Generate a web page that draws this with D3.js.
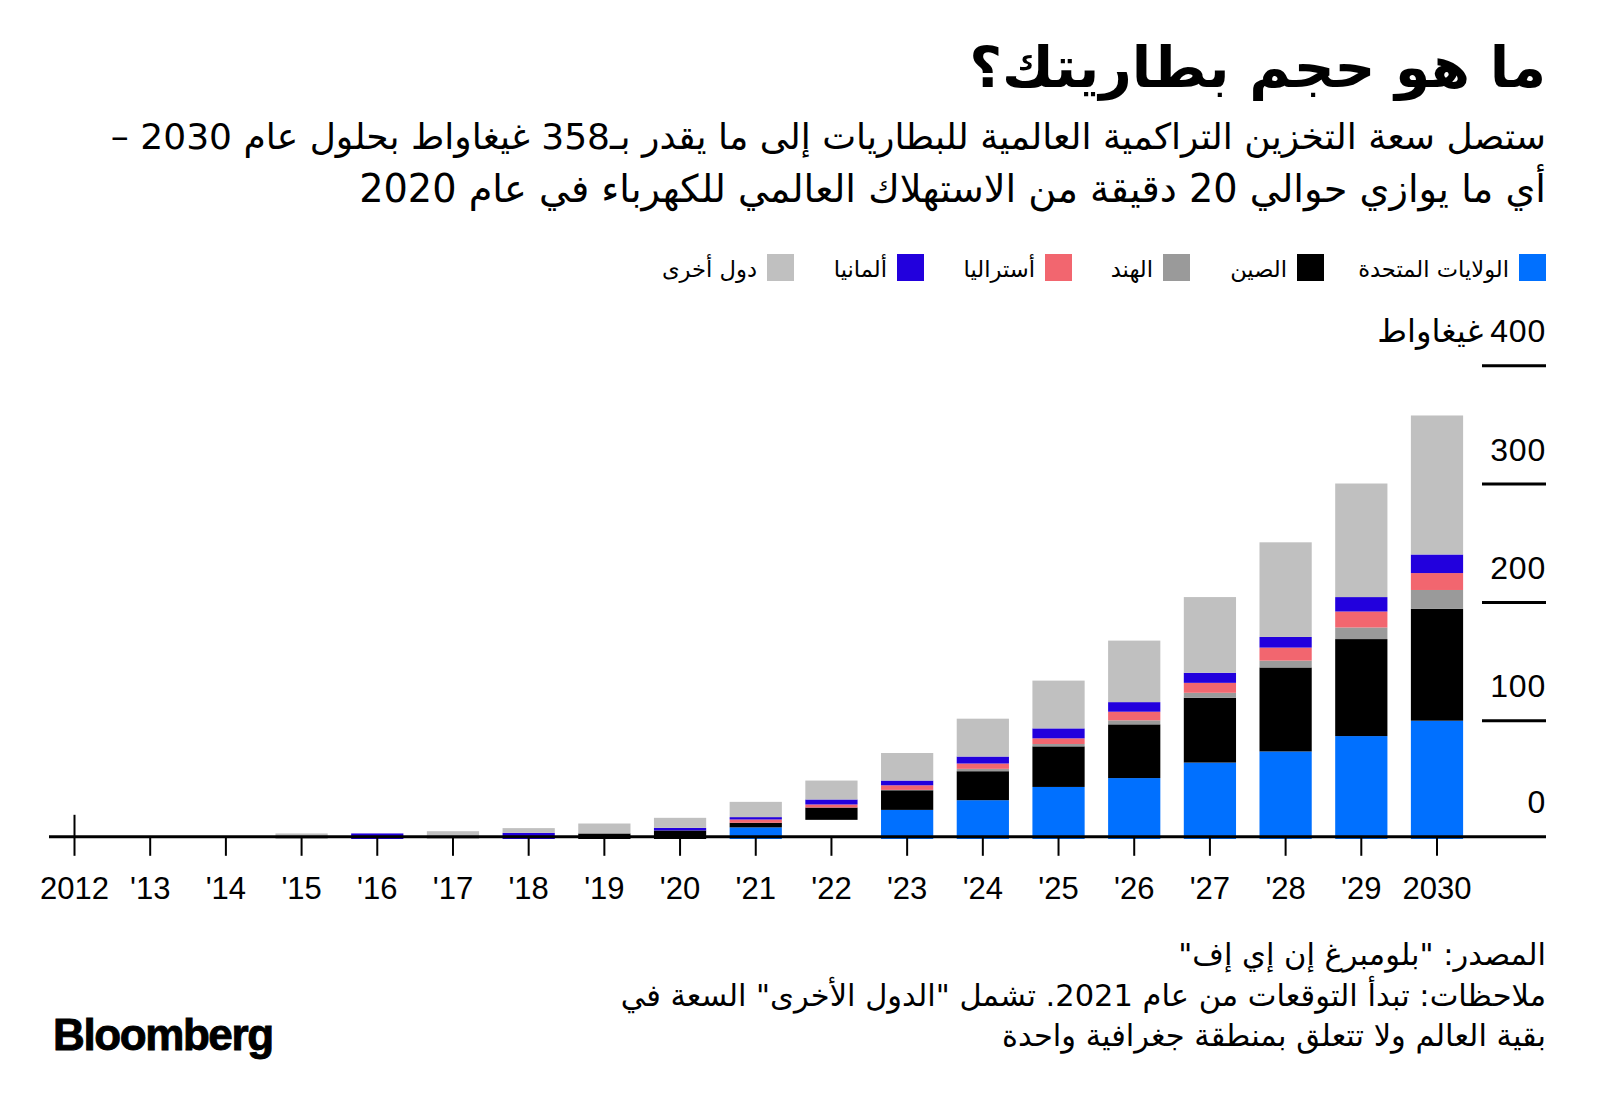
<!DOCTYPE html>
<html><head><meta charset="utf-8">
<script src="https://cdn.jsdelivr.net/npm/d3@7/dist/d3.min.js"></script>
<style>
html,body{margin:0;padding:0;background:#fff;}
svg{display:block;}
.ar{font-family:"DejaVu Sans",sans-serif;}
.lat{font-family:"Liberation Sans",Arial,sans-serif;}
</style></head>
<body>
<script>
// ---------- data ----------
const years = [2012,2013,2014,2015,2016,2017,2018,2019,2020,2021,2022,2023,2024,2025,2026,2027,2028,2029,2030];
const xTickLabels = ["2012","'13","'14","'15","'16","'17","'18","'19","'20","'21","'22","'23","'24","'25","'26","'27","'28","'29","2030"];
const usValues        = [0,0,0,0,0,0,0,0,0,9.8,16.2,24.6,32.8,44,51.5,64.6,74,87,100];
const chinaValues     = [0,0,0,0,0,0,0,4.7,7.2,3.9,10.4,16.6,24.5,34.3,45.4,54.8,71,82,94.5];
const indiaValues     = [0,0,0,0,0,0,0,0,0,0,0,0.3,2,2,3.4,4.2,5.8,9.8,16];
const australiaValues = [0,0,0,0,0,0,0,0,0,2.8,2.6,3.9,4.5,4.8,7.3,8.4,11,13.5,14.3];
const germanyValues   = [0,0,0,0,4.7,0,5.2,0,2.2,2,4.2,4,5.9,8.4,8.1,8.5,9,12.2,15.7];
const otherValues     = [0,0,0,4.7,0,6.6,4,8.4,8.5,12.9,16,23.3,32,40.4,52,64,80,96,117.5];
const seriesKeys   = ["us","china","india","australia","germany","other"];
const seriesNames  = ["الولايات المتحدة","الصين","الهند","أستراليا","ألمانيا","دول أخرى"];
const seriesColors = ["#0070ff","#000000","#9a9a9a","#f2666f","#2200dd","#c0c0c0"];
// segment not drawn in the source graphic
const undrawnSegments = [{key:"us", year:2022}];
const yTickValues = [0,100,200,300,400];
const yUnit = "غيغاواط";

const titleText = "ما هو حجم بطاريتك؟";
const subtitleLines = [
  "ستصل سعة التخزين التراكمية العالمية للبطاريات إلى ما يقدر بـ358 غيغاواط بحلول عام 2030 –",
  "أي ما يوازي حوالي 20 دقيقة من الاستهلاك العالمي للكهرباء في عام 2020"
];
const footerLines = [
  "المصدر: \"بلومبرغ إن إي إف\"",
  "ملاحظات: تبدأ التوقعات من عام 2021. تشمل \"الدول الأخرى\" السعة في",
  "بقية العالم ولا تتعلق بمنطقة جغرافية واحدة"
];

// ---------- layout ----------
const W = 1600, H = 1116;
const right = 1546;
const legendSwatchRight = [1546, 1324, 1190, 1072, 924, 794];

const svg = d3.select("body").append("svg").attr("width", W).attr("height", H);

// size a text so that its rendered width matches a target width
function fitWidth(sel, target) {
  const w = sel.node().getComputedTextLength();
  const fs = +sel.attr("font-size");
  sel.attr("font-size", fs * target / w);
  return fs * target / w;
}
function rtlText(parent, xPos, yPos, size, str) {
  return parent.append("text").attr("class","ar")
    .attr("x", xPos).attr("y", yPos)
    .attr("direction","rtl").style("direction","rtl").attr("text-anchor","start")
    .attr("font-size", size).attr("fill","#000").text(str);
}

const table = years.map((yr,i) => ({
  year: yr, us: usValues[i], china: chinaValues[i], india: indiaValues[i],
  australia: australiaValues[i], germany: germanyValues[i], other: otherValues[i]
}));
const stacked = d3.stack().keys(seriesKeys)(table);

const x = d3.scalePoint().domain(years).range([74.5, 1437]);
const barW = x.step() * 0.69;
const y = d3.scaleLinear().domain([0, 400]).range([839, 365.8]);
const baseY = y(0) - 2.2;
const color = d3.scaleOrdinal().domain(seriesKeys).range(seriesColors);

// title
const title = rtlText(svg, right, 87, 50, titleText).attr("font-weight", 700);
fitWidth(title, 577);

// subtitle
const subTargets = [1436, 1187];
subtitleLines.forEach((s, i) => fitWidth(rtlText(svg, right, 149 + i*53, 30, s), subTargets[i]));

// legend
{
  const sw = 27, gap = 10;
  const texts = [];
  seriesKeys.forEach((k, i) => {
    const xr = legendSwatchRight[i];
    svg.append("rect").attr("x", xr - sw).attr("y", 254).attr("width", sw).attr("height", sw)
      .attr("fill", color(k));
    texts.push(rtlText(svg, xr - sw - gap, 277, 21, seriesNames[i]));
  });
  const fs = fitWidth(texts[0], 151);
  texts.forEach(t => t.attr("font-size", fs));
}

// y-axis ticks and labels
const yAxisG = svg.append("g");
yTickValues.forEach(v => {
  const ly = v === 0 ? baseY : y(v);
  if (v !== 0) {
    yAxisG.append("line").attr("x1", 1482).attr("x2", right).attr("y1", ly).attr("y2", ly)
      .attr("stroke","#000").attr("stroke-width", 3);
  }
  const t = yAxisG.append("text").attr("class","lat")
    .attr("x", right).attr("y", ly - 23.5).attr("text-anchor","end")
    .attr("font-size", 32).attr("letter-spacing", 0.8).attr("fill","#000").text(d3.format("d")(v));
  if (v === 400) {
    const w = t.node().getComputedTextLength();
    const u = rtlText(yAxisG, right - w - 7, ly - 23.5, 28, yUnit);
    fitWidth(u, 106);
  }
});

// bars
const hidden = (k, yr) => undrawnSegments.some(s => s.key === k && s.year === yr);
svg.append("g").selectAll("g").data(stacked).join("g")
  .attr("fill", d => color(d.key))
  .each(function(s) {
    d3.select(this).selectAll("rect").data(s.filter(d => d[1] - d[0] > 0)).join("rect")
      .attr("x", d => x(d.data.year) - barW/2)
      .attr("width", barW)
      .attr("y", d => y(d[1]))
      .attr("height", d => y(d[0]) - y(d[1]))
      .attr("opacity", d => hidden(s.key, d.data.year) ? 0 : 1);
  });

// baseline
svg.append("line").attr("x1", 49).attr("x2", right).attr("y1", baseY).attr("y2", baseY)
  .attr("stroke","#000").attr("stroke-width", 3);

// x ticks and labels
const xg = svg.append("g");
years.forEach((yr, i) => {
  xg.append("line").attr("x1", x(yr)).attr("x2", x(yr))
    .attr("y1", i === 0 ? baseY - 22 : baseY).attr("y2", baseY + 19)
    .attr("stroke","#000").attr("stroke-width", 2);
  xg.append("text").attr("class","lat")
    .attr("x", x(yr)).attr("y", 899).attr("text-anchor","middle")
    .attr("font-size", 31).attr("fill","#000").text(xTickLabels[i]);
});

// footer (common size)
const foots = footerLines.map((s, i) => rtlText(svg, right, 965 + i*40.5, 26, s));
{
  const targets = [350, 918, 575];
  const k = d3.mean(foots, (f, i) => targets[i] / f.node().getComputedTextLength());
  foots.forEach(f => f.attr("font-size", 26 * k));
}

// logo
svg.append("text").attr("class","lat")
  .attr("x", 53).attr("y", 1050)
  .attr("font-size", 44).attr("font-weight", 700).attr("letter-spacing", -1.4)
  .attr("stroke","#000").attr("stroke-width", 0.9)
  .attr("fill","#000").text("Bloomberg");
</script>
</body></html>
